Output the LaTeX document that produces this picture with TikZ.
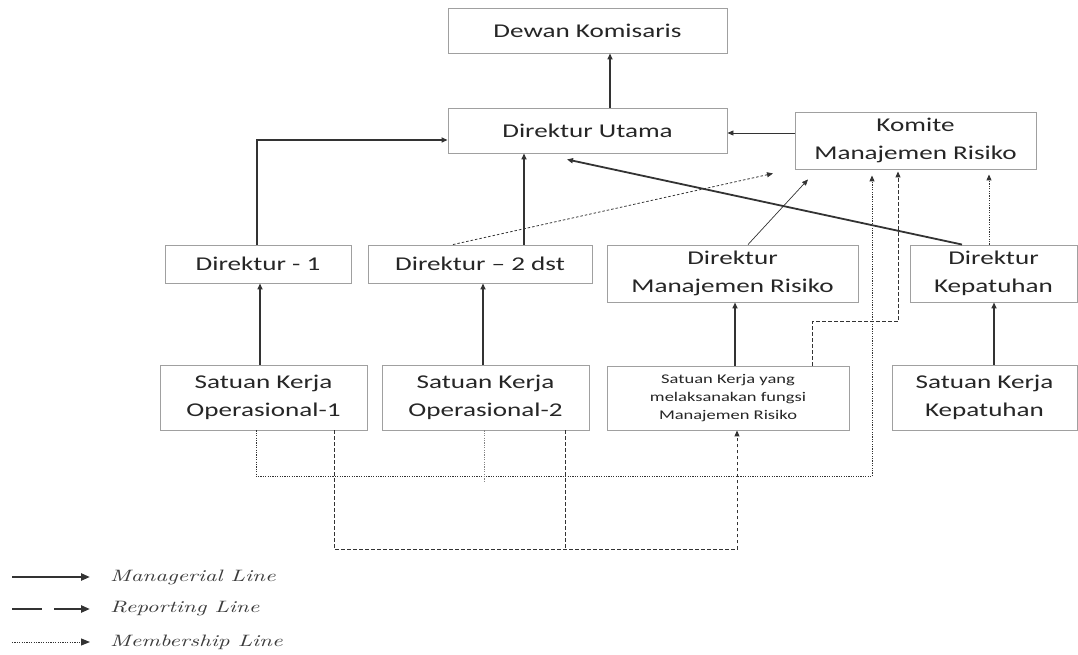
\documentclass[tikz,border=0pt]{standalone}
\usepackage{fontspec}
\setmainfont{Carlito}[FakeStretch=1.39]
\newfontfamily\legendfont{lmroman10-italic.otf}[FakeStretch=1.39]
\usetikzlibrary{arrows.meta}
\definecolor{ln}{HTML}{333333}
\definecolor{bx}{HTML}{A0A0A0}
\definecolor{tx}{HTML}{262626}
\begin{document}
\begin{tikzpicture}[x=1pt,y=-1pt,
  box/.style={draw=bx,line width=0.9pt,fill=white,inner sep=0pt,align=center,text=tx,font=\fontsize{19.5}{28}\selectfont},
  small/.style={font=\fontsize{13.3}{18.3}\selectfont},
  tip/.style={-{Triangle[length=6pt,width=5pt]}},
  mgr/.style={tip,draw=ln,line width=1.8pt},
  thinline/.style={tip,draw=ln,line width=0.9pt},
  rep/.style={tip,draw=ln,line width=1pt,dash pattern=on 3.5pt off 2.5pt},
  mem/.style={tip,draw=ln,line width=0.9pt,dash pattern=on 1.2pt off 1.2pt},
  legtip/.style={-{Triangle[length=9pt,width=7pt]}},
  legtext/.style={anchor=west,inner sep=0pt,text=tx!90,font=\legendfont\fontsize{16.5}{18}\selectfont},
]
\useasboundingbox (0,0) rectangle (1078,655);

% boxes
\node[box,minimum width=279pt,minimum height=45pt] (dk) at (587.5,30.5) {Dewan Komisaris};
\node[box,minimum width=279pt,minimum height=45pt] (du) at (587.5,130.5) {Direktur Utama};
\node[box,minimum width=241pt,minimum height=57pt] (km) at (915.5,140.5) {Komite\\Manajemen Risiko};
\node[box,minimum width=186pt,minimum height=38pt] (d1) at (258,264) {Direktur - 1};
\node[box,minimum width=224pt,minimum height=38pt] (d2) at (480,264) {Direktur -- 2 dst};
\node[box,minimum width=251pt,minimum height=57pt] (dmr) at (732.5,273.5) {Direktur\\Manajemen Risiko};
\node[box,minimum width=167pt,minimum height=57pt] (dkp) at (993.5,273.5) {Direktur\\Kepatuhan};
\node[box,minimum width=207pt,minimum height=65pt] (s1) at (263.5,397.5) {Satuan Kerja\\Operasional-1};
\node[box,minimum width=207pt,minimum height=65pt] (s2) at (485.5,397.5) {Satuan Kerja\\Operasional-2};
\node[box,small,minimum width=242pt,minimum height=64pt] (smr) at (728,398) {Satuan Kerja yang\\melaksanakan fungsi\\Manajemen Risiko};
\node[box,minimum width=185pt,minimum height=65pt] (skp) at (984.5,397.5) {Satuan Kerja\\Kepatuhan};

% managerial lines
\coordinate (a1) at ([xshift=22.5pt]du.north);
\draw[mgr] (a1) -- (a1 |- dk.south);
\coordinate (a2) at ([xshift=-1pt]d1.north);
\draw[mgr] (a2) |- ([yshift=-9.5pt]du.west);
\coordinate (a3) at ([xshift=44pt]d2.north);
\draw[mgr] (a3) -- (a3 |- du.south);
\draw[mgr] ([xshift=-31.5pt]dkp.north) -- ([xshift=-20.5pt,yshift=-6pt]du.south);
\coordinate (b1) at ([xshift=-3.5pt]s1.north);
\draw[mgr] (b1) -- (b1 |- d1.south);
\coordinate (b2) at ([xshift=-2.5pt]s2.north);
\draw[mgr] (b2) -- (b2 |- d2.south);
\coordinate (b3) at ([xshift=7pt]smr.north);
\draw[mgr] (b3) -- (b3 |- dmr.south);
\coordinate (b4) at ([xshift=9.5pt]skp.north);
\draw[mgr] (b4) -- (b4 |- dkp.south);

% komite to direktur utama
\coordinate (a4) at ([yshift=7.5pt]km.west);
\draw[thinline] (a4) -- (a4 -| du.east);

% reporting / membership to komite
\draw[rep,line width=0.8pt,dash pattern=on 2.5pt off 2pt] ([xshift=-27pt]d2.north) -- ([xshift=-142.5pt,yshift=-4pt]km.south);
\draw[thinline,line width=0.7pt] ([xshift=15.5pt]dmr.north) -- ([xshift=-107.5pt,yshift=-10pt]km.south);
\coordinate (c1) at ([xshift=-4.5pt]dkp.north);
\draw[mem,shorten >=5pt] (c1) -- (c1 |- km.south);

% membership bus from satuan kerja operasional
\coordinate (k1) at ([xshift=-43.5pt]km.south);
\draw[mem,shorten >=6pt] ([xshift=-7.5pt]s1.south) -- ++(0,46) -| (k1);
\draw[mem,-,draw=ln!60] ([xshift=-1.5pt]s2.south) -- ++(0,52);

% reporting lines
\draw[rep] ([xshift=70.5pt]s1.south) -- ++(0,119) -| ([xshift=9pt]smr.south);
\draw[rep,-] ([xshift=79.5pt]s2.south) -- ++(0,119);
\draw[rep,shorten >=2pt] ([xshift=84pt]smr.north) -- ++(0,-44) -| ([xshift=-17.5pt]km.south);

% legend
\coordinate (l1a) at (12,577); \coordinate (l1b) at (90,577);
\coordinate (l2a) at (12,609); \coordinate (l2b) at (90,609);
\coordinate (l3a) at (12,642); \coordinate (l3b) at (90,642);
\draw[legtip,draw=ln,line width=2.4pt] (l1a) -- (l1b);
\draw[legtip,draw=ln,line width=2.4pt,dash pattern=on 30pt off 12pt] (l2a) -- (l2b);
\draw[legtip,draw=ln,line width=1pt,dash pattern=on 1.2pt off 1.2pt] (l3a) -- (l3b);
\node[legtext] (t1) at (110,577) {Managerial Line};
\node[legtext] (t2) at (110,609) {Reporting Line};
\node[legtext] (t3) at (110,642) {Membership Line};
\end{tikzpicture}
\end{document}
